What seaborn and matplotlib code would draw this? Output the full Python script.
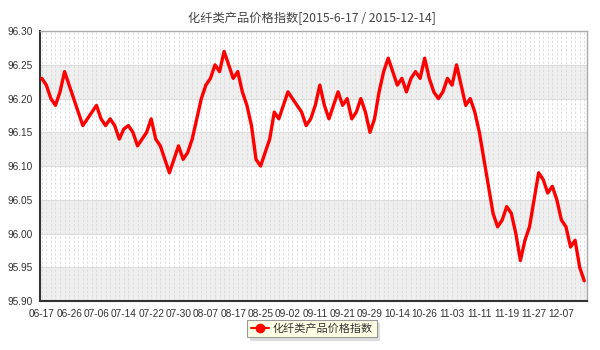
import matplotlib
matplotlib.use("Agg")
import matplotlib.pyplot as plt
import seaborn as sns
import pandas as pd
import numpy as np

values = [96.23, 96.22, 96.20, 96.19, 96.21, 96.24, 96.22, 96.20, 96.18, 96.16,
          96.17, 96.18, 96.19, 96.17, 96.16, 96.17, 96.16, 96.14, 96.155, 96.16,
          96.15, 96.13, 96.14, 96.15, 96.17, 96.14, 96.13, 96.11, 96.09, 96.11,
          96.13, 96.11, 96.12, 96.14, 96.17, 96.20, 96.22, 96.23, 96.25, 96.24,
          96.27, 96.25, 96.23, 96.24, 96.21, 96.19, 96.16, 96.11, 96.10, 96.12,
          96.14, 96.18, 96.17, 96.19, 96.21, 96.20, 96.19, 96.18, 96.16, 96.17,
          96.19, 96.22, 96.19, 96.17, 96.19, 96.21, 96.19, 96.20, 96.17, 96.18,
          96.20, 96.18, 96.15, 96.17, 96.21, 96.24, 96.26, 96.24, 96.22, 96.23,
          96.21, 96.23, 96.24, 96.23, 96.26, 96.23, 96.21, 96.20, 96.21, 96.23,
          96.22, 96.25, 96.22, 96.19, 96.20, 96.18, 96.15, 96.11, 96.07, 96.03,
          96.01, 96.02, 96.04, 96.03, 96.00, 95.96, 95.99, 96.01, 96.05, 96.09,
          96.08, 96.06, 96.07, 96.05, 96.02, 96.01, 95.98, 95.99, 95.95, 95.93]
tick_labels = ["06-17", "06-26", "07-06", "07-14", "07-22", "07-30", "08-07",
               "08-17", "08-25", "09-02", "09-11", "09-21", "09-29", "10-14",
               "10-26", "11-03", "11-11", "11-19", "11-27", "12-07"]
y_ticks = [95.90, 95.95, 96.00, 96.05, 96.10, 96.15, 96.20, 96.25, 96.30]
title = "化纤类产品价格指数[2015-6-17 / 2015-12-14]"
series_name = "化纤类产品价格指数"

sns.set_theme(style="white")
plt.rcParams['font.family'] = ['Liberation Sans', 'Noto Sans CJK SC', 'DejaVu Sans']

df = pd.DataFrame({"idx": np.arange(len(values)), "value": values})

fig = plt.figure(figsize=(6, 3.5), dpi=100)
ax = fig.add_axes([0.066, 0.14, 0.913, 0.771])

# alternating bands
for k in range(len(y_ticks) - 1):
    if k % 2 == 0:
        ax.axhspan(y_ticks[k], y_ticks[k + 1], color="#efefef", zorder=0, lw=0)
for y in y_ticks[1:-1]:
    ax.axhline(y, color="#dcdcdc", lw=0.8, zorder=0.5)
for i in df["idx"]:
    ax.axvline(i, color="#dadada", lw=0.6, ls=(0, (3, 2)), zorder=0.6)

sns.lineplot(data=df, x="idx", y="value", ax=ax, color="#ff0000", lw=2.4,
             solid_joinstyle="round", solid_capstyle="round", zorder=3,
             legend=False)

ax.set_xlim(-0.48, 119.7)
ax.set_ylim(95.90, 96.30)
ax.set_yticks(y_ticks)
ax.set_yticklabels([f"{v:.2f}" for v in y_ticks])
ax.set_xticks(np.arange(len(tick_labels)) * 6)
ax.set_xticklabels(tick_labels)
ax.set_xlabel("")
ax.set_ylabel("")
ax.tick_params(axis="both", labelsize=7.3, labelcolor="#333333", colors="#333333",
               direction="out", length=3, width=1, pad=2)
ax.tick_params(axis="x", length=4)

for s in ["left", "bottom"]:
    ax.spines[s].set_color("#333333")
    ax.spines[s].set_linewidth(1.5)
for s in ["top", "right"]:
    ax.spines[s].set_color("#aaaaaa")
    ax.spines[s].set_linewidth(1.0)

fig.text(0.52, 0.948, title, ha="center", va="center", fontsize=8.8, color="#444444",
         family=['Noto Sans CJK SC', 'DejaVu Sans'])

# legend
from matplotlib.lines import Line2D
handle = Line2D([], [], color="#ff0000", lw=1.5, marker="o", markersize=6,
                markerfacecolor="#ff0000", markeredgecolor="#ff0000")
leg = fig.legend([handle], [series_name], loc="center", bbox_to_anchor=(0.52, 0.062),
                 frameon=True, handlelength=1.6, handletextpad=0.4,
                 borderpad=0.3, fancybox=False,
                 shadow={'color': '#dddddd', 'alpha': 1},
                 prop={'family': ['Noto Sans CJK SC'], 'size': 8})
leg.get_frame().set_facecolor("#ffffe6")
leg.get_frame().set_edgecolor("#999999")
leg.get_frame().set_linewidth(0.8)
for t in leg.get_texts():
    t.set_color("#333333")

fig.savefig("out.png", dpi=100, facecolor="white")
